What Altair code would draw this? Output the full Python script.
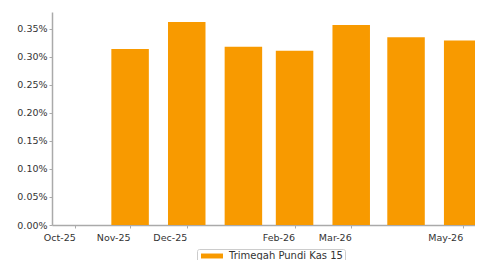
import altair as alt
import pandas as pd

dates = ["2025-10-31", "2025-11-30", "2025-12-31", "2026-01-31", "2026-02-28",
         "2026-03-31", "2026-04-30", "2026-05-31"]
values = [0.0, 0.00314, 0.00362, 0.00318, 0.00311, 0.00357, 0.00335, 0.00329]
series = "Trimegah Pundi Kas 15"
tick_dates = ["2025-10-31", "2025-11-30", "2025-12-31", "2026-02-28", "2026-03-31", "2026-05-31"]
y_ticks = [0.0, 0.0005, 0.001, 0.0015, 0.002, 0.0025, 0.003, 0.0035]

df = pd.DataFrame({"date": dates, "value": values, "series": [series] * len(dates)})

def dt(s):
    y, m, d = map(int, s.split("-"))
    return alt.DateTime(year=y, month=m, date=d, utc=True)

font = "DejaVu Sans"
axis_color = "#aaaaaa"
label_color = "#333333"

chart = alt.Chart(df).mark_bar(size=37.5, clip=True).encode(
    x=alt.X("date:T",
            scale=alt.Scale(type="utc", domain=[dt("2025-10-21"), dt("2026-06-04")]),
            axis=alt.Axis(values=[dt(s) for s in tick_dates],
                          labelExpr="utcFormat(datum.value, '%b-%y')",
                          title=None, grid=False, labelAlign="right", labelPadding=4,
                          tickSize=3, labelFontSize=9.5, labelFont=font, labelColor=label_color,
                          domainColor=axis_color, domainWidth=1.5, tickColor=axis_color)),
    y=alt.Y("value:Q",
            scale=alt.Scale(domain=[0, 0.0038], nice=False),
            axis=alt.Axis(values=y_ticks, format=".2%", title=None, grid=False, tickSize=3,
                          labelPadding=2, labelFontSize=9.5, labelFont=font, labelColor=label_color,
                          domainColor=axis_color, domainWidth=1.5, tickColor=axis_color)),
    color=alt.Color("series:N",
                    scale=alt.Scale(domain=[series], range=["#F89A00"]),
                    legend=alt.Legend(title=None, orient="none", legendX=145, legendY=237,
                                      symbolType="M-2.75,-0.62L2.75,-0.62L2.75,0.62L-2.75,0.62Z",
                                      symbolSize=64, symbolStrokeWidth=0,
                                      labelFont=font, labelFontSize=10, labelColor=label_color,
                                      strokeColor="#cccccc", padding=2, cornerRadius=2,
                                      fillColor="white", symbolOffset=8, labelOffset=12)),
).properties(
    width=423, height=213,
    autosize=alt.AutoSizeParams(type="none"),
    padding={"left": 44, "top": 4, "right": 0, "bottom": 40},
).configure_view(stroke=None)

chart.save("out.html", embed_options={"renderer": "svg", "actions": False})
